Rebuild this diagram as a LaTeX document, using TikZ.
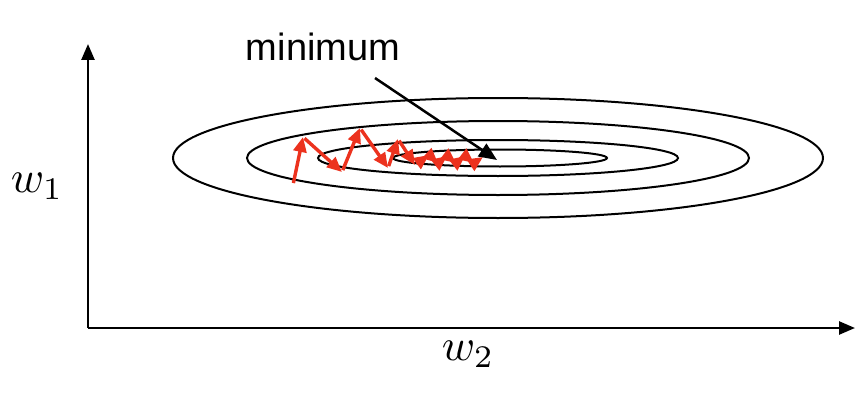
\documentclass[tikz,border=0pt]{standalone}
\usepackage{fontspec}
\usepackage{amsmath}
\newfontfamily\labelfont{Liberation Sans}
\usetikzlibrary{arrows.meta}
\definecolor{gdred}{RGB}{236,50,30}

\begin{document}
\begin{tikzpicture}[x=1pt,y=-1pt,
  axis/.style={line width=2.5pt,-{Triangle[length=16pt,width=13pt]}},
  contour/.style={line width=2pt},
  gdstep/.style={line width=3.4pt,gdred,-{Triangle[length=15pt,width=13pt]},shorten <=2pt},
  pointer/.style={line width=2.5pt,-{Triangle[length=18pt,width=15pt]}}]
  \useasboundingbox (0,0) rectangle (862,396);
  % axes
  \coordinate (origin) at (88,328);
  \coordinate (ytop) at (88,44);
  \coordinate (xend) at (855,328);
  \draw[axis] (origin) -- (ytop);
  \draw[axis] (origin) -- (xend);
  \node[scale=4.5] (w1) at (37,186) {$w_1$};
  \node[scale=4.5] (w2) at (468,354) {$w_2$};
  % level sets of the loss
  \draw[contour] (498,158) ellipse [x radius=325, y radius=60];
  \draw[contour] (498,158) ellipse [x radius=251, y radius=37];
  \draw[contour] (498,158) ellipse [x radius=180, y radius=18];
  \draw[contour] (500,158) ellipse [x radius=107, y radius=8.5];
  % gradient descent steps
  \foreach \px/\py [count=\k from 0] in {293/185,303/137,342/172,360/128,388/168,398/139,415/165,429/155,438/163,447/156,456/163,465/156,474/163,483/157}
    \coordinate (g\k) at (\px,\py);
  \foreach \k in {1,...,13}{
    \pgfmathtruncatemacro{\prev}{\k-1}
    \draw[gdstep] (g\prev) -- (g\k);
  }
  % minimum
  \node[font=\labelfont\fontsize{38}{40}\selectfont,anchor=base] (minlabel) at (323,60) {minimum};
  \coordinate (pstart) at (375,78);
  \coordinate (minpt) at (497,160);
  \draw[pointer] (pstart) -- (minpt);
\end{tikzpicture}
\end{document}
